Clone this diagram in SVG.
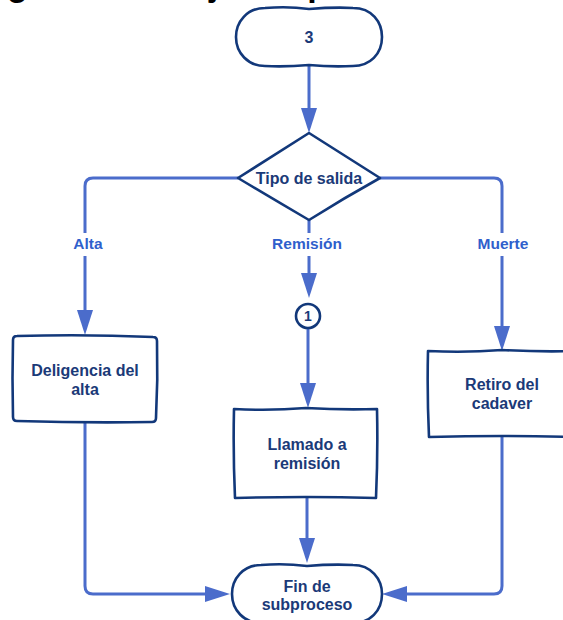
<svg xmlns="http://www.w3.org/2000/svg" width="563" height="620" viewBox="0 0 563 620">
  <style>
    .shape { fill: #ffffff; stroke: #12387a; stroke-width: 2.6; stroke-linejoin: round; }
    .txt { font-family: "Liberation Sans", Arial, sans-serif; font-weight: bold; font-size: 16px; fill: #1b3a78; text-anchor: middle; }
    .lbl { font-family: "Liberation Sans", Arial, sans-serif; font-weight: bold; font-size: 15.5px; fill: #2f5fcc; text-anchor: middle; }
    .flow { fill: none; stroke: #4b6ccb; stroke-width: 3; stroke-linejoin: round; }
    .title { font-family: "Liberation Sans", Arial, sans-serif; font-weight: bold; font-size: 34px; fill: #000000; }
  </style>
  <defs>
    <marker id="arrow" markerUnits="userSpaceOnUse" markerWidth="25" markerHeight="16" refX="15" refY="8" orient="auto">
      <path d="M0,0 L25,8 L0,16 Z" fill="#4b6ccb"/>
    </marker>
  </defs>

  <!-- page heading, mostly above the visible area -->
  <text class="title" x="-46" y="-4">Diagrama de flujo del proceso</text>

  <!-- connectors -->
  <g id="connectors">
    <path class="flow" d="M309,66 V123" marker-end="url(#arrow)"/>
    <path class="flow" d="M238,178 H93 Q85,178 85,186 V233 M85,256 V325" marker-end="url(#arrow)"/>
    <path class="flow" d="M309,220 V233 M309,256 V288" marker-end="url(#arrow)"/>
    <path class="flow" d="M380,178 H494 Q502,178 502,186 V233 M502,256 V341" marker-end="url(#arrow)"/>
    <path class="flow" d="M308,328 V398" marker-end="url(#arrow)"/>
    <path class="flow" d="M307,498 V553" marker-end="url(#arrow)"/>
    <path class="flow" d="M85,422 V586 Q85,594 93,594 H220" marker-end="url(#arrow)"/>
    <path class="flow" d="M502,437 V586 Q502,594 494,594 H392" marker-end="url(#arrow)"/>
    <text class="lbl" x="88" y="249">Alta</text>
    <text class="lbl" x="307" y="249">Remisión</text>
    <text class="lbl" x="503" y="249">Muerte</text>
  </g>

  <!-- start terminator -->
  <g id="start">
    <path class="shape" d="M265,8 Q288,6 309,9 Q334,7 353,8 C372,8 382,22 382,37 C382,54 370,66 353,66 Q331,67 309,65 Q286,67 265,66 C248,66 236,53 236,37 C236,22 247,8 265,8 Z"/>
    <text class="txt" x="309" y="43">3</text>
  </g>

  <!-- decision -->
  <g id="decision">
    <path class="shape" d="M309,133 Q345,156 380,178 Q344,198 309,220 Q273,199 238,178 Q274,155 309,133 Z"/>
    <text class="txt" x="309" y="184">Tipo de salida</text>
  </g>

  <!-- discharge paperwork -->
  <g id="alta">
    <path class="shape" d="M17,336 Q85,334 153,337 Q157,337 157,341 Q158,380 156,418 Q156,422 152,422 Q85,423 17,421 Q13,421 13,417 Q12,378 13,340 Q13,336 17,336 Z"/>
    <text class="txt" x="85" y="376">Deligencia del</text>
    <text class="txt" x="85" y="395">alta</text>
  </g>

  <!-- connector circle -->
  <g id="connector1">
    <circle class="shape" cx="308" cy="316" r="12"/>
    <text class="txt" x="308" y="321" style="font-size:14px">1</text>
  </g>

  <!-- referral call -->
  <g id="remision">
    <path class="shape" d="M234,409 Q270,411 306,408 Q342,410 377,409 Q378,453 376,498 Q306,496 235,498 Q233,453 234,409 Z"/>
    <text class="txt" x="307" y="450">Llamado a</text>
    <text class="txt" x="307" y="469">remisión</text>
  </g>

  <!-- body removal -->
  <g id="muerte">
    <path class="shape" d="M428,351 Q465,353 502,350 Q540,352 576,351 L576,437 Q502,435 429,437 Q427,394 428,351 Z"/>
    <text class="txt" x="502" y="390">Retiro del</text>
    <text class="txt" x="502" y="409">cadaver</text>
  </g>

  <!-- end terminator -->
  <g id="end">
    <path class="shape" d="M261,565 Q284,563 307,566 Q331,564 353,565 C371,565 382,579 382,594 C382,611 370,623 353,623 Q330,624 307,622 Q284,624 261,623 C244,623 232,610 232,594 C232,579 243,565 261,565 Z"/>
    <text class="txt" x="307" y="592">Fin de</text>
    <text class="txt" x="307" y="610">subproceso</text>
  </g>
</svg>
